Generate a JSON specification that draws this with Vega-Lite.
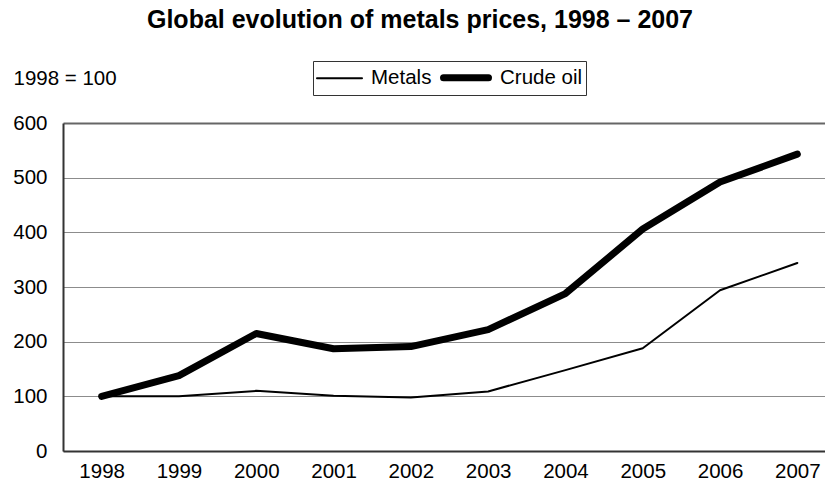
{
  "$schema": "https://vega.github.io/schema/vega-lite/v6.json",
  "width": 762,
  "height": 328,
  "autosize": {"type": "none"},
  "padding": {"left": 63, "top": 123, "right": 0, "bottom": 42},
  "background": "white",
  "config": {
    "font": "Liberation Sans",
    "view": {"stroke": null}
  },
  "title": {
    "text": "Global evolution of metals prices, 1998 – 2007",
    "font": "Liberation Sans",
    "fontSize": 25,
    "fontWeight": "bold",
    "color": "black",
    "anchor": "middle",
    "frame": "group",
    "dx": -24,
    "baseline": "alphabetic",
    "offset": 8
  },
  "data": {
    "values": [
      {"year": 1998, "series": "Metals", "value": 100},
      {"year": 1999, "series": "Metals", "value": 100},
      {"year": 2000, "series": "Metals", "value": 110},
      {"year": 2001, "series": "Metals", "value": 101},
      {"year": 2002, "series": "Metals", "value": 98},
      {"year": 2003, "series": "Metals", "value": 109},
      {"year": 2004, "series": "Metals", "value": 148},
      {"year": 2005, "series": "Metals", "value": 188},
      {"year": 2006, "series": "Metals", "value": 294},
      {"year": 2007, "series": "Metals", "value": 344},
      {"year": 1998, "series": "Crude oil", "value": 100},
      {"year": 1999, "series": "Crude oil", "value": 138},
      {"year": 2000, "series": "Crude oil", "value": 215},
      {"year": 2001, "series": "Crude oil", "value": 187},
      {"year": 2002, "series": "Crude oil", "value": 191},
      {"year": 2003, "series": "Crude oil", "value": 222},
      {"year": 2004, "series": "Crude oil", "value": 288},
      {"year": 2005, "series": "Crude oil", "value": 406},
      {"year": 2006, "series": "Crude oil", "value": 492},
      {"year": 2007, "series": "Crude oil", "value": 543}
    ]
  },
  "mark": {"type": "line", "color": "black", "strokeCap": "round", "strokeJoin": "round"},
  "encoding": {
    "x": {
      "field": "year",
      "type": "quantitative",
      "scale": {"domain": [1997.5, 2007.358], "nice": false, "zero": false},
      "axis": {
        "title": null,
        "values": [1998, 1999, 2000, 2001, 2002, 2003, 2004, 2005, 2006, 2007],
        "format": "d",
        "grid": false,
        "ticks": false,
        "labelFontSize": 20.5,
        "labelColor": "black",
        "labelPadding": 10,
        "labelBaseline": "top",
        "domainColor": "#333333",
        "domainWidth": 2,
        "labelFlush": false,
        "labelOverlap": false
      }
    },
    "y": {
      "field": "value",
      "type": "quantitative",
      "scale": {"domain": [0, 600], "nice": false},
      "axis": {
        "title": "1998 = 100",
        "titleAngle": 0,
        "titleAlign": "left",
        "titleBaseline": "alphabetic",
        "titleX": -50,
        "titleY": -39,
        "titleFontSize": 20.5,
        "titleFontWeight": "normal",
        "titleColor": "black",
        "values": [0, 100, 200, 300, 400, 500, 600],
        "ticks": false,
        "labelFontSize": 20.5,
        "labelColor": "black",
        "labelPadding": 16,
        "domainColor": "#333333",
        "domainWidth": 2,
        "grid": true,
        "gridColor": {"condition": {"test": "datum.value == 600", "value": "#666666"}, "value": "#8c8c8c"},
        "gridWidth": {"condition": {"test": "datum.value == 600", "value": 2}, "value": 1}
      }
    },
    "strokeWidth": {
      "field": "series",
      "type": "nominal",
      "scale": {"type": "ordinal", "domain": ["Metals", "Crude oil"], "range": [2, 7]},
      "legend": {
        "title": null,
        "orient": "none",
        "legendX": 250,
        "legendY": -62,
        "direction": "horizontal",
        "strokeColor": "#333333",
        "padding": 3,
        "symbolType": "M-1,0H3.5",
        "symbolSize": 400,
        "symbolStrokeColor": "black",
        "symbolFillColor": "transparent",
        "labelFontSize": 20.5,
        "labelColor": "black",
        "labelOffset": 33,
        "columnPadding": -3,
        "encode": {"symbols": {"update": {"strokeCap": {"value": "round"}}}}
      }
    }
  }
}
